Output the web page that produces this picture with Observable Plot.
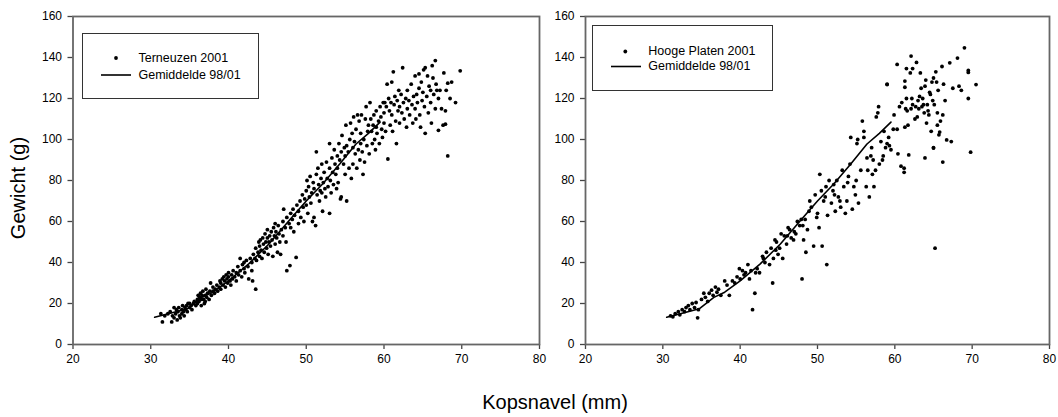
<!DOCTYPE html>
<html><head><meta charset="utf-8">
<script src="https://cdn.jsdelivr.net/npm/d3@7"></script>
<script src="https://cdn.jsdelivr.net/npm/@observablehq/plot@0.6"></script>
<style>
body{margin:0;background:#fff;font-family:Arial,"Liberation Sans",sans-serif;}
#wrap{position:relative;width:1058px;height:417px;overflow:hidden;}
.panel{position:absolute;top:0;}
.legend{position:absolute;border:1px solid #333;background:#fff;box-sizing:border-box;}
.legend .txt{position:absolute;font-size:12.5px;line-height:16px;white-space:nowrap;color:#000;}
.legend svg{position:absolute;left:0;top:0;overflow:visible;}
.ylab{position:absolute;left:18px;top:188px;transform:translate(-50%,-50%) rotate(-90deg);font-size:20px;white-space:nowrap;}
.xlab{position:absolute;left:555px;top:402px;transform:translate(-50%,-50%);font-size:20px;white-space:nowrap;}
</style></head>
<body><div id="wrap"></div>
<script>
const xTicks = [20, 30, 40, 50, 60, 70, 80];
const yTicks = [0, 20, 40, 60, 80, 100, 120, 140, 160];
const yTitle = "Gewicht (g)";
const xTitle = "Kopsnavel (mm)";
const seriesNames = ["Terneuzen 2001", "Hooge Platen 2001"];
const meanName = "Gemiddelde 98/01";

// Gemiddelde 98/01 (kopsnavel mm, gewicht g)
const meanLength = [30.5, 32, 33.5, 34.7, 36.6, 38, 40, 42.6, 45.2, 47.8, 50, 52.1, 54.3, 56.4, 58, 59.5];
const meanWeight = [13.3, 14.8, 16.2, 17.4, 23, 25.5, 31, 39.3, 49, 60.5, 70, 78.3, 88, 97.8, 103, 108.5];

// Terneuzen 2001 [kopsnavel, gewicht]
const terneuzen2001 = [
[31.3,15],[31.5,11],[31.8,14],[32.2,15],[32.5,16],[32.7,11],[32.8,14],[33,18],[33,13],[33.2,15],[33.3,17],[33.4,12],[33.5,16],[33.6,18],[33.7,14],[33.8,13],[34,17],[34,15],[34.1,19],[34.2,16],[34.3,14],[34.4,18],[34.5,17],[34.6,19],[34.7,16],[34.8,20],[35,18],[35,20],
[35.2,19],[35.3,17],[35.5,20],[35.6,21],[35.8,19],[36,22],[36,20],[36.1,24],[36.2,21],[36.3,23],[36.4,25],[36.5,22],[36.5,19],[36.6,24],[36.7,26],[36.8,22],[36.9,20],[37,24],[37,21],[37.1,27],[37.2,23],[37.3,25],[37.5,22],[37.6,26],[37.7,30],[37.8,24],[38,26],[38,28],[38.2,25],[38.3,27],[38.5,29],[38.6,26],[38.8,28],[38.9,31],[39,27],[39,30],[39.2,32],[39.3,29],[39.4,33],[39.5,31],[39.6,28],[39.7,34],[39.8,32],[39.9,30],[40,33],[40,35],
[40.2,31],[40.3,29],[40.4,34],[40.5,32],[40.6,36],[40.8,33],[41,35],[41,31],[41.2,38],[41.3,34],[41.5,36],[41.5,42],[41.7,33],[41.8,39],[42,37],[42,40],[42.1,35],[42.3,41],[42.5,38],[42.6,32],[42.8,42],[43,40],[43,36],[43.1,31],[43.2,44],[43.4,42],[43.5,27],[43.5,47],[43.6,41],[43.8,45],[43.9,50],[44,43],[44,48],[44.1,51],[44.2,46],[44.3,42],[44.4,52],[44.5,49],[44.6,45],[44.7,54],[44.8,50],[44.9,47],[45,52],[45,56],
[45.1,44],[45.2,50],[45.3,53],[45.4,48],[45.5,55],[45.6,51],[45.7,43],[45.8,57],[45.9,53],[46,49],[46,59],[46.1,55],[46.2,52],[46.3,45],[46.4,58],[46.5,54],[46.6,50],[46.7,44],[46.8,56],[47,60],[47,53],[47.1,66],[47.3,57],[47.4,50],[47.5,62],[47.5,36],[47.8,59],[47.9,38.5],[48,64],[48,57],[48.2,61],[48.3,66],[48.4,55],[48.5,63],[48.7,42.5],[48.8,68],[49,65],[49,59],[49.2,70],[49.3,62],[49.5,73],[49.6,67],[49.7,60],[49.8,71],[50,75],[50,68],
[50.1,80],[50.2,64],[50.3,77],[50.4,72],[50.5,82],[50.6,69],[50.7,74],[50.8,60],[50.9,79],[51,76],[51,62],[51.2,58],[51.3,94],[51.3,83],[51.4,73],[51.5,86],[51.6,78],[51.7,70],[51.8,75],[51.9,81],[52,88],[52,74],[52.1,65],[52.2,79],[52.3,84],[52.4,76],[52.5,72],[52.6,89],[52.7,81],[52.8,77],[53,64],[53,86],[53,98],[53.1,80],[53.2,74],[53.3,91],[53.4,84],[53.5,78],[53.6,95],[53.7,88],[53.8,83],[53.9,76],[54,92],[54,86],[54.1,79],[54.2,98],[54.3,90],[54.4,71],[54.5,94],[54.6,102],[54.5,72],[54.8,88],[54.9,96],[55,92],[55,83],
[55.1,107],[55.2,97],[55.2,70],[55.4,94],[55.5,86],[55.6,100],[55.7,108],[55.8,81],[55.9,103],[56,96],[56,88],[56.1,111],[56.2,99],[56.3,93],[56.4,105],[56.5,86],[56.6,112],[56.7,95],[56.8,109],[56.9,90],[57,103],[57,98],[57.1,112],[57.2,94],[57.3,83],[57.4,100],[57.5,89],[57.6,110],[57.7,116],[57.8,97],[57.9,104],[58,107],[58.2,118],[58.1,93],[58.3,110],[58.4,104],[58.5,98],[58.6,107],[58.7,112],[58.8,100],[58.9,95],[59,114],[59,106],[59.1,103],[59.3,109],[59.4,98],[59.5,116],[59.6,111],[59.7,105],[59.8,101],[59.9,118],[60,108],[60,113],
[60.1,118],[60.2,104],[60.3,116],[60.4,127],[60.5,90.5],[60.6,120],[60.7,114],[60.8,107],[60.9,118],[61,112],[61,128],[61.1,104],[61.2,133],[61.3,117],[61.4,121],[61.5,109],[61.6,98],[61.7,119],[61.8,114],[61.9,124],[62,116],[62,108],[62.2,122],[62.3,113],[62.4,135],[62.5,118],[62.6,110],[62.8,120],[62.9,106],[63,124],[63,115],[63.2,119],[63.3,112],[63.5,127],[63.6,117],[63.7,108],[63.8,121],[64,115],[64,131],[64.1,110],[64.2,122],[64.3,118],[64.5,132],[64.5,125],[64.6,112],[64.7,106],[64.8,128],[64.9,119],[65,123],
[65.1,134],[65.2,116],[65.3,135],[65.3,103],[65.5,121],[65.6,131],[65.7,113],[65.8,126],[66.2,136],[66,118],[66,124],[66.1,108],[66.3,130],[66.4,122],[66.6,138.5],[66.6,115],[66.7,127],[66.8,124],[67,120],[67,104.5],[67.2,124],[67.4,115],[67.7,132.5],[67.6,107],[67.9,107.5],[67.9,114],[68,124],[68.2,92],[68.2,127.5],[68.7,128],[68.5,120],[69.2,118],[69.8,133.5]
];

// Hooge Platen 2001 [kopsnavel, gewicht]
const hoogePlaten2001 = [
[31,14],[31.3,13.5],[31.6,15],[32,16],[32.2,14.5],[32.5,17],[32.8,16],[33,18],[33.3,19],[33.5,17],[33.8,20],[34.1,18],[34.3,20.5],[34.5,13],[34.6,17],[35,22],[35.3,25],[35.5,23],[35.8,21],
[36,25],[36.3,26.5],[36.5,24],[36.8,28],[37,25.5],[37.2,27],[37.5,24],[38,31],[38.3,29],[38.6,24],[39,31],[39.3,30],[39.6,33],[39.9,37],[40,32],
[40.3,36],[40.5,34],[40.7,35],[41,39],[41.2,32],[41.4,36],[41.6,17],[41.9,25],[42.2,37],[42.5,35],[42.9,43],[43.2,40],[43.4,45],[43.8,39],[44,47],[44.2,30],[44.3,42],[44.5,51],[44.7,50],[44.9,44],[42,35],[43,42],[44.6,46],
[45.1,47],[45.3,54],[45.5,42],[45.7,53],[46,49],[46.2,57],[46.4,56],[46.6,52],[46.9,51],[47.2,54],[47.4,60],[47.7,58],[47.9,61],[48,32],[48.2,51],[48.4,61],[48.5,45],[48.7,56],[48.9,65],[49,70],[49.2,67],[49.5,48],[49.7,73],[49.9,62],[46.1,53],[47,55],[48.1,58],
[50.2,57],[50.3,83],[50.5,75],[50.6,48],[50.8,70],[51,72],[51.2,39],[51.3,63],[51.5,80],[51.8,69],[52,75],[52.1,78],[52.3,65],[52.5,80],[52.7,72],[52.9,70],[53.2,85],[53.4,77],[53.6,64],[53.8,70],[54,82],[54.2,88],[54.3,101],[54.5,66],[54.7,77],[54.9,73],[50,64],[51.1,77],[52.2,73],[53,67],[53.9,79],
[55.1,98],[55.2,100],[55.3,69],[55.6,85],[55.8,109],[56,104],[56,101],[56.3,77],[56.4,91],[56.7,72],[56.9,92],[57,96],[57.2,90],[57.3,77],[57.5,85],[57.6,111],[57.8,113],[57.9,116],[58,88],[58.2,99],[58.4,90],[58.6,104],[58.8,96],[59,127],[59,98],[59.3,97],[59.5,95],[59.8,105],[59.9,112],[55,80],[56.5,85],[57.1,83],[58.5,92],[59.2,101],
[60.3,136.6],[60.3,105],[60.4,93],[60.6,116],[60.8,87],[61.2,84],[61.3,128.5],[61.3,125.5],[61.3,106],[61.4,115],[61.6,114],[61.7,107],[62.1,140.7],[62,132.5],[62.1,115],[62.3,117],[62.3,134.6],[61.5,134.6],[62.6,110],[62.8,137.6],[62.9,111],[63,119],[63.2,121],[63.3,132.5],[63.4,125],[63.5,116],[63.7,117],[63.8,113],[63.9,91],[64,129],[64.1,108],[64.3,114],[64.5,123],[64.6,122],[64.7,104],[64.9,119],[65,96],[60.9,118],[62.7,116],[63.1,115],[63.6,120],[64.2,117],[64.4,112],[64.8,128],[65,130],[62.2,120],[61.5,120],[63.9,126],[61.8,92.5],[61.2,86],
[65.1,117],[65.2,47],[65.3,133],[65.4,128],[65.5,113],[65.6,124],[65.7,102.3],[65.8,103.6],[65.9,109],[66.2,89],[66.1,135.6],[66.3,127],[66.5,119],[66.7,99.8],[67.1,137.4],[67.3,99],[67.5,125],[68.1,139.7],[68.3,126],[68.6,124],[69,144.7],[69.5,133.7],[69.5,132.7],[69.5,120],[69.8,93.8],[70.5,126.8],[65.5,107],[66.2,112],[59,126.8],[65,95.8]
];

const meanLine = meanLength.map((x, i) => ({x, y: meanWeight[i]}));
const fontFamily = "Arial, 'Liberation Sans', sans-serif";

function panel(points, mLeft, mRight, width) {
  return Plot.plot({
    width, height: 372,
    marginLeft: mLeft, marginRight: mRight, marginTop: 16, marginBottom: 28,
    style: {fontFamily, fontSize: "12px", color: "#000", background: "transparent", overflow: "visible"},
    x: {domain: [20, 80]},
    y: {domain: [0, 160]},
    marks: [
      Plot.axisX({ticks: xTicks, tickSize: 5, tickPadding: 5, label: null, stroke: "#444", fill: "#000", strokeWidth: 1.3}),
      Plot.axisY({ticks: yTicks, tickSize: 5, tickPadding: 6, label: null, stroke: "#444", fill: "#000", strokeWidth: 1.3}),
      Plot.dot(points, {x: d => d[0], y: d => d[1], r: 1.9, fill: "#000", stroke: null}),
      Plot.line(meanLine, {x: "x", y: "y", stroke: "#000", strokeWidth: 1.6}),
      Plot.frame({stroke: "#666", strokeWidth: 1.8})
    ]
  });
}

const wrap = document.getElementById("wrap");
const p1 = panel(terneuzen2001, 72.5, 6, 545);
p1.classList.add("panel"); p1.style.left = "0px";
wrap.appendChild(p1);
const p2 = panel(hoogePlaten2001, 40, 9, 513);
p2.classList.add("panel"); p2.style.left = "545px";
wrap.appendChild(p2);

function legend(name, box, rows, dotX, lineX, textX) {
  const d = document.createElement("div");
  d.className = "legend";
  Object.assign(d.style, {left: box[0] + "px", top: box[1] + "px", width: box[2] + "px", height: box[3] + "px"});
  const ns = "http://www.w3.org/2000/svg";
  const s = document.createElementNS(ns, "svg");
  s.setAttribute("width", box[2]); s.setAttribute("height", box[3]);
  const c = document.createElementNS(ns, "circle");
  c.setAttribute("cx", dotX); c.setAttribute("cy", rows[0]); c.setAttribute("r", 1.9); c.setAttribute("fill", "#000");
  const l = document.createElementNS(ns, "line");
  l.setAttribute("x1", lineX[0]); l.setAttribute("x2", lineX[1]); l.setAttribute("y1", rows[1]); l.setAttribute("y2", rows[1]);
  l.setAttribute("stroke", "#000"); l.setAttribute("stroke-width", 1.6);
  s.appendChild(c); s.appendChild(l);
  d.appendChild(s);
  [name, meanName].forEach((t, i) => {
    const e = document.createElement("div");
    e.className = "txt"; e.textContent = t;
    e.style.left = textX + "px"; e.style.top = (rows[i] - 8) + "px";
    d.appendChild(e);
  });
  wrap.appendChild(d);
}
legend(seriesNames[0], [82, 33, 177, 66], [24, 41], 33, [18, 48], 55.5);
legend(seriesNames[1], [592, 24.5, 181, 66.5], [25.5, 40.5], 32.3, [18, 48], 55.3);

const yl = document.createElement("div"); yl.className = "ylab"; yl.textContent = yTitle; wrap.appendChild(yl);
const xl = document.createElement("div"); xl.className = "xlab"; xl.textContent = xTitle; wrap.appendChild(xl);
</script>
</body></html>
